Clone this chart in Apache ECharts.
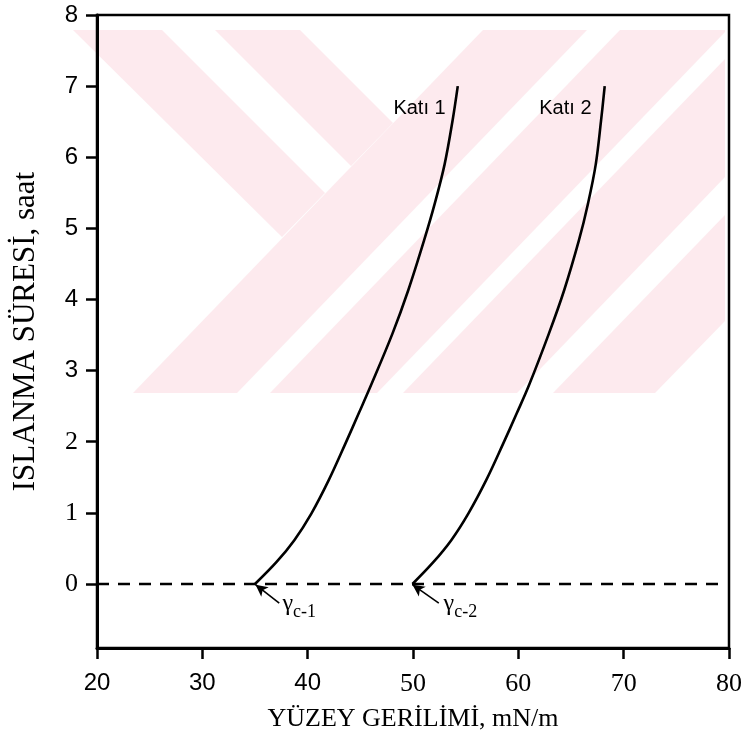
<!DOCTYPE html>
<html><head><meta charset="utf-8">
<script src="https://cdn.jsdelivr.net/npm/echarts@6/dist/echarts.min.js"></script>
<style>html,body{margin:0;padding:0;background:#fff}#c{width:745px;height:739px}</style>
</head><body><div id="c"></div>
<script>
// ---- data ----
const kati1X = [35.0, 37.05, 38.75, 40.35, 42.0, 43.57, 44.85, 46.0, 48.05, 49.55, 51.05, 52.05, 53.0, 53.75, 54.25];
const kati1Y = [0, 0.31, 0.62, 0.99, 1.46, 1.97, 2.40, 2.79, 3.52, 4.13, 4.83, 5.34, 5.90, 6.51, 7.0];
const kati2X = [49.95, 51.95, 53.65, 55.25, 56.95, 58.55, 59.85, 61.0, 62.9, 64.35, 65.75, 66.6, 67.35, 67.85, 68.2];
const kati2Y = [0, 0.31, 0.62, 0.99, 1.46, 1.97, 2.40, 2.79, 3.52, 4.13, 4.83, 5.34, 5.90, 6.51, 7.0];
const xTicks = [20, 30, 40, 50, 60, 70, 80];
const yTicks = [0, 1, 2, 3, 4, 5, 6, 7, 8];
const baselineX = [20, 79.4];
const baselineY = [0, 0];
const curveNames = ['Katı 1', 'Katı 2'];
const curveLabelX = [53.1, 66.95];
const curveLabelY = [6.68, 6.68];
const gammaSubs = ['c-1', 'c-2'];
const gammaLabelX = [37.6, 52.9];
const gammaLabelY = [-0.28, -0.28];
const arrowTailX = [37.3, 52.45];
const arrowTailY = [-0.27, -0.27];
const arrowHeadX = [35.05, 49.95];
const arrowHeadY = [-0.01, -0.01];
const xTitle = 'YÜZEY GERİLİMİ, mN/m';
const yTitle = 'ISLANMA SÜRESİ, saat';

const zip = (a, b) => a.map((v, i) => [v, b[i]]);
const SERIF = '"Liberation Serif","Times New Roman",serif';
const SANS = '"Liberation Sans",Arial,sans-serif';
const PINK = '#fdeaee';

const chart = echarts.init(document.getElementById('c'), null, {renderer: 'canvas'});

const wm = [
  [[73,30],[162,30],[325,193],[282,237]],
  [[215,30],[300,30],[393,123],[351,166]],
  [[133,393],[237,393],[587,30],[483,30]],
  [[270,393],[377,393],[725,32],[725,30],[620,30]],
  [[403,393],[517,393],[725,177],[725,59]],
  [[553,393],[655,393],[725,321],[725,215]]
];

chart.setOption({
  animation: false,
  backgroundColor: '#fff',
  graphic: wm.map(p => ({type: 'polygon', z: -10, silent: true, shape: {points: p}, style: {fill: PINK}})),
  grid: {left: 97, right: 13, top: 15, bottom: 91, show: true, borderColor: '#000', borderWidth: 2.5, backgroundColor: 'transparent'},
  xAxis: {
    type: 'value', min: 20, max: 80, interval: 10,
    name: xTitle, nameLocation: 'middle', nameGap: 58,
    nameTextStyle: {fontFamily: SERIF, fontSize: 26, color: '#000'},
    axisLine: {show: true, onZero: false, lineStyle: {color: '#000', width: 3}},
    axisTick: {show: true, inside: false, length: 11, lineStyle: {color: '#000', width: 2.5}},
    axisLabel: {
      margin: 23, color: '#000',
      formatter: v => (v <= 40 ? '{s|' + v + '}' : '{r|' + v + '}'),
      rich: {s: {fontFamily: SANS, fontSize: 24, color: '#000'}, r: {fontFamily: SERIF, fontSize: 26, color: '#000'}}
    },
    splitLine: {show: false}
  },
  yAxis: {
    type: 'value', min: -0.9, max: 8,
    name: yTitle, nameLocation: 'middle', nameGap: 56, nameRotate: 90,
    nameTextStyle: {fontFamily: SERIF, fontSize: 31, color: '#000'},
    axisLine: {show: true, onZero: false, lineStyle: {color: '#000', width: 3}},
    axisTick: {show: true, inside: false, length: 11, customValues: yTicks, lineStyle: {color: '#000', width: 2.5}},
    axisLabel: {
      margin: 19, color: '#000', customValues: yTicks,
      formatter: v => (v <= 2 ? '{r|' + v + '}' : '{s|' + v + '}'),
      rich: {s: {fontFamily: SANS, fontSize: 24, color: '#000'}, r: {fontFamily: SERIF, fontSize: 26, color: '#000'}}
    },
    splitLine: {show: false}
  },
  series: [
    {
      type: 'line', name: 'baseline', data: zip(baselineX, baselineY), symbol: 'none', silent: true,
      lineStyle: {color: '#000', width: 2.6, type: [12, 9]},
      markLine: {
        silent: true, symbol: ['none', 'arrow'], symbolSize: [9, 12], label: {show: false},
        lineStyle: {color: '#000', width: 1.6, type: 'solid'},
        data: arrowTailX.map((x, i) => [{coord: [x, arrowTailY[i]]}, {coord: [arrowHeadX[i], arrowHeadY[i]]}])
      }
    },
    {type: 'line', name: curveNames[0], data: zip(kati1X, kati1Y), smooth: 0.35, symbol: 'none', lineStyle: {color: '#000', width: 2.6}},
    {type: 'line', name: curveNames[1], data: zip(kati2X, kati2Y), smooth: 0.35, symbol: 'none', lineStyle: {color: '#000', width: 2.6}},
    {
      type: 'scatter', symbolSize: 0, silent: true, itemStyle: {opacity: 1},
      data: curveLabelX.map((x, i) => ({value: [x, curveLabelY[i]], name: curveNames[i]})),
      label: {show: true, position: 'left', distance: 0, formatter: p => p.name, fontFamily: SANS, fontSize: 20, color: '#000', opacity: 1}
    },
    {
      type: 'scatter', symbolSize: 0, silent: true, itemStyle: {opacity: 1},
      data: gammaLabelX.map((x, i) => ({value: [x, gammaLabelY[i]], name: gammaSubs[i]})),
      label: {
        show: true, position: 'right', distance: 0, opacity: 1,
        formatter: p => '{g|γ}{s|' + p.name + '}',
        rich: {
          g: {fontFamily: SERIF, fontSize: 24, color: '#000', verticalAlign: 'bottom'},
          s: {fontFamily: SERIF, fontSize: 18, color: '#000', verticalAlign: 'bottom', padding: [0, 0, -5, 0]}
        }
      }
    }
  ]
});
</script></body></html>
